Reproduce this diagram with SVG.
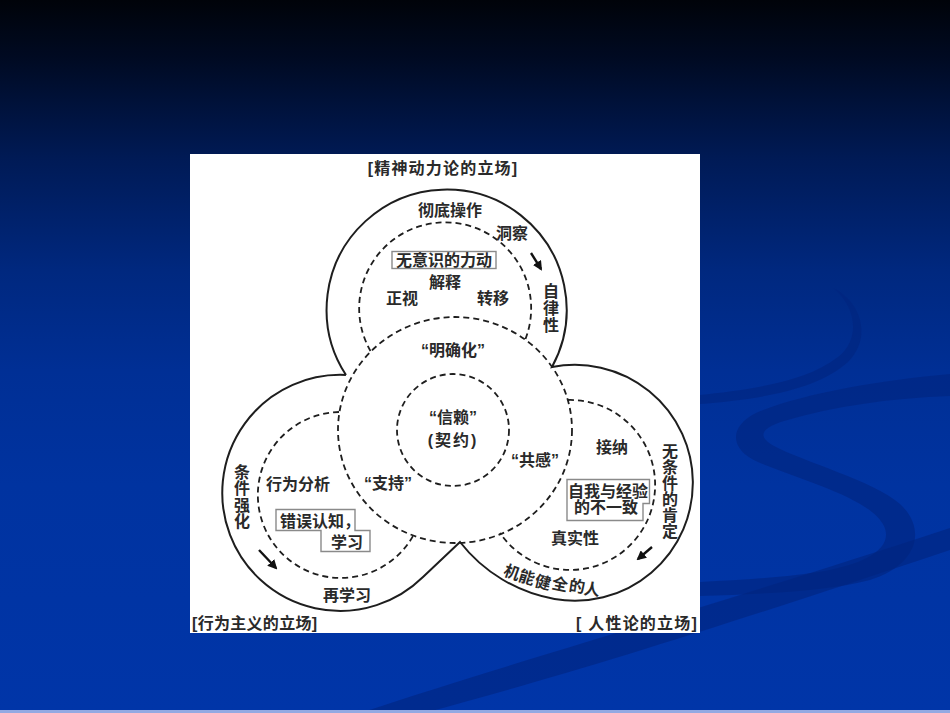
<svg xmlns="http://www.w3.org/2000/svg" width="950" height="713" viewBox="0 0 950 713">
<defs>
<linearGradient id="bg" x1="0" y1="0" x2="0" y2="1">
<stop offset="0" stop-color="#000309"/>
<stop offset="0.08" stop-color="#000a22"/>
<stop offset="0.22" stop-color="#001a55"/>
<stop offset="0.38" stop-color="#00287f"/>
<stop offset="0.52" stop-color="#002f95"/>
<stop offset="0.68" stop-color="#0033a0"/>
<stop offset="1" stop-color="#0035a8"/>
</linearGradient>
<marker id="ah" viewBox="0 0 10 10" refX="8" refY="5" markerWidth="4" markerHeight="4" orient="auto" markerUnits="strokeWidth">
<path d="M0,0 L10,5 L0,10 Z" fill="#111"/>
</marker>
<style>
.solid{fill:none;stroke:#1e1e1e;stroke-width:2}
.dash{fill:none;stroke:#1e1e1e;stroke-width:1.8;stroke-dasharray:6 4}
.box{fill:none;stroke:#8a8a8a;stroke-width:1.4}
.t{font-family:"Liberation Sans","Noto Sans CJK SC",sans-serif;font-size:16px;font-weight:bold;fill:#2a2a2a;text-anchor:middle}
.s{text-anchor:start}
.e{text-anchor:end}
.arr{fill:none;stroke:#111;stroke-width:2.4;marker-end:url(#ah)}
.sw{fill:#00257f;opacity:0.6}
</style>
</defs>
<rect id="background" x="0" y="0" width="950" height="713" fill="url(#bg)"/>
<g id="swirls">
<path class="sw" d="M833,288 C855,305 862,338 838,357 C805,383 745,390 700,395 L700,404 C750,400 815,392 848,362 C872,338 862,302 833,288 Z"/>
<path class="sw" d="M950,374 C880,380 800,394 756,413 C728,427 730,450 758,462 C806,482 870,498 884,526 C894,548 866,564 818,572 C778,578 740,580 700,582 L700,596 C762,594 824,592 870,580 C920,564 926,528 900,504 C874,481 804,462 774,446 C756,436 762,428 784,421 C834,406 892,398 950,396 Z"/>
<path class="sw" d="M360,713 C520,660 700,610 950,528 L950,550 C720,627 560,677 424,713 Z"/>
</g>
<rect x="0" y="710" width="950" height="3" fill="#93a9e2"/>
<rect id="panel" x="190" y="154" width="510" height="479" fill="#ffffff"/>
<g id="outline">
<path class="solid" d="M346,375 A120,120 0 1 1 552,367 A118,118 0 1 1 554.5,599 A154,154 0 0 1 460,542 L423,577 A118,118 0 1 1 346,375"/>
</g>
<g id="dashed-circles">
<ellipse class="dash" cx="455" cy="430" rx="117" ry="113"/>
<circle class="dash" cx="453" cy="430" r="56"/>
<path class="dash" d="M370.5,351 A86,86 0 1 1 525.5,339"/>
<path class="dash" d="M339,412 A83,83 0 1 0 413,536"/>
<path class="dash" d="M568,400 A85,85 0 1 1 500,533"/>
</g>
<g id="connectors">
<line class="arr" x1="531" y1="253" x2="541" y2="269"/>
<line class="arr" x1="259" y1="550" x2="276" y2="568"/>
<line class="arr" x1="652" y1="547" x2="638" y2="559"/>
</g>
<g id="titles">
<text class="t" x="443" y="174" style="letter-spacing:1.2px">[精神动力论的立场]</text>
<text class="t s" x="192" y="629" style="letter-spacing:0.3px">[行为主义的立场]</text>
<text class="t e" x="698" y="629" style="letter-spacing:1.2px">[ 人性论的立场]</text>
</g>
<g id="node-psychodynamic">
<text class="t" x="450" y="216">彻底操作</text>
<text class="t" x="512" y="239">洞察</text>
<rect class="box" x="392" y="251.5" width="104" height="17"/>
<text class="t" x="444" y="266">无意识的力动</text>
<text class="t" x="445" y="288">解释</text>
<text class="t" x="402" y="304">正视</text>
<text class="t" x="493" y="304">转移</text>
<text class="t" x="551"><tspan x="551" y="297">自</tspan><tspan x="551" y="314">律</tspan><tspan x="551" y="331">性</tspan></text>
</g>
<g id="node-center">
<text class="t" x="453" y="356">“明确化”</text>
<text class="t" x="453" y="423">“信赖”</text>
<text class="t" x="453" y="446" style="letter-spacing:2px">(契约)</text>
<text class="t" x="535" y="466">“共感”</text>
<text class="t" x="388" y="489">“支持”</text>
</g>
<g id="node-behavioral">
<text class="t" x="298" y="490">行为分析</text>
<text class="t" x="242"><tspan x="242" y="478">条</tspan><tspan x="242" y="494">件</tspan><tspan x="242" y="511">强</tspan><tspan x="242" y="527">化</tspan></text>
<path class="box" d="M276,509.5 H355 V530.5 H370 V551.5 H321 V530.5 H276 Z"/>
<text class="t s" x="280" y="527">错误认知，</text>
<text class="t" x="347" y="548">学习</text>
<text class="t" x="347" y="601">再学习</text>
</g>
<g id="node-humanistic">
<text class="t" x="612" y="453">接纳</text>
<path class="box" d="M567,479.5 H649.5 V503.5 H643 V520.5 H567 Z"/>
<text class="t" x="608" y="497">自我与经验</text>
<text class="t" x="606" y="513">的不一致</text>
<text class="t" x="575" y="544">真实性</text>
<text class="t" x="670"><tspan x="670" y="457">无</tspan><tspan x="670" y="473">条</tspan><tspan x="670" y="489">件</tspan><tspan x="670" y="505">的</tspan><tspan x="670" y="521">肯</tspan><tspan x="670" y="537">定</tspan></text>
<g id="curved-label">
<text class="t" x="512" y="578" transform="rotate(20 512 572)">机</text>
<text class="t" x="527" y="583" transform="rotate(17 527 577)">能</text>
<text class="t" x="543" y="588" transform="rotate(14 543 582)">健</text>
<text class="t" x="560" y="590" transform="rotate(11 560 584)">全</text>
<text class="t" x="577" y="592" transform="rotate(9 577 586)">的</text>
<text class="t" x="592" y="595" transform="rotate(7 592 589)">人</text>
</g>
</g>
</svg>
